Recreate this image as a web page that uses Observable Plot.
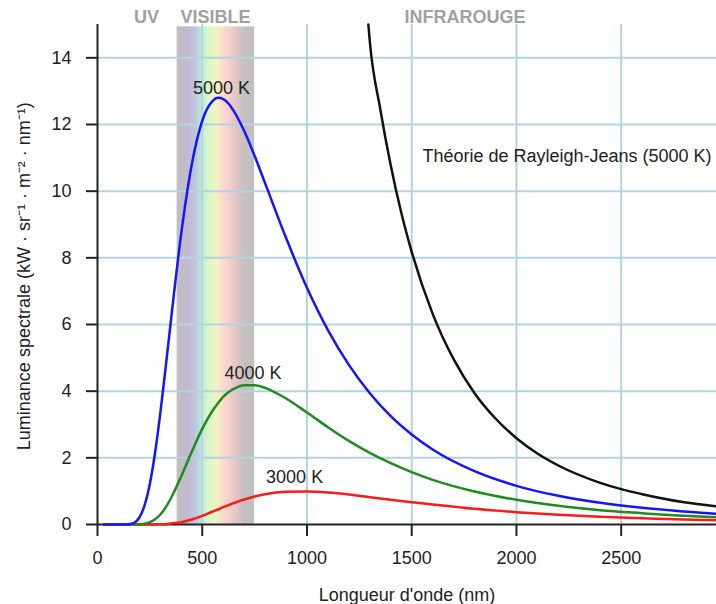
<!DOCTYPE html>
<html>
<head>
<meta charset="utf-8">
<script src="https://cdn.jsdelivr.net/npm/d3@7"></script>
<script src="https://cdn.jsdelivr.net/npm/@observablehq/plot@0.6"></script>
<style>
  html, body { margin: 0; padding: 0; background: #fff; }
</style>
</head>
<body>
<div id="chart"></div>
<script>
// Wavelengths (nm) at which the curves were read
const wavelength = [30,100,150,175,200,225,250,275,300,325,350,400,450,500,550,575,600,625,650,700,750,800,900,1000,1100,1200,1300,1400,1500,1600,1800,2000,2200,2400,2600,2800,2950];
// Spectral radiance (kW·sr⁻¹·m⁻²·nm⁻¹)
const t5000 = [0,0,0.01,0.05,0.21,0.58,1.22,2.16,3.35,4.69,6.09,8.74,10.80,12.11,12.71,12.80,12.76,12.63,12.41,11.81,11.06,10.24,8.60,7.10,5.83,4.79,3.94,3.25,2.70,2.25,1.60,1.16,0.86,0.65,0.50,0.39,0.32];
const t4000 = [0,0,0,0,0.01,0.02,0.07,0.16,0.30,0.51,0.78,1.45,2.18,2.87,3.42,3.64,3.83,3.97,4.07,4.18,4.18,4.10,3.78,3.36,2.92,2.51,2.15,1.84,1.57,1.34,0.99,0.74,0.56,0.43,0.34,0.26,0.22];
const t3000 = [0,0,0,0,0,0,0,0,0.01,0.01,0.03,0.07,0.15,0.26,0.39,0.45,0.52,0.58,0.64,0.75,0.84,0.91,0.98,0.99,0.96,0.90,0.82,0.74,0.67,0.60,0.47,0.37,0.29,0.23,0.19,0.15,0.13];
// Rayleigh-Jeans (5000 K)
const rjWavelength = [1293,1300,1350,1400,1450,1500,1600,1700,1800,1900,2000,2100,2200,2400,2500,2600,2800,2950];
const rjValues = [15,14.49,12.46,10.77,9.36,8.18,6.32,4.96,3.94,3.18,2.59,2.13,1.77,1.25,1.06,0.91,0.67,0.55];

// Visible band (nm)
const visibleBand = [{from: 380, to: 750, bottom: 0, top: 14.93}];

// Axis ticks
const xTicks = [0,500,1000,1500,2000,2500];
const yTicks = [0,2,4,6,8,10,12,14];
const xGrid = [500,1000,1500,2000,2500];
const yGrid = [2,4,6,8,10,12,14];

// Curve labels
const curveLabels = [
  {text: "5000 K", x: 592, y: 13.1},
  {text: "4000 K", x: 742, y: 4.53},
  {text: "3000 K", x: 941, y: 1.41}
];
const rjLabel = [{text: "Théorie de Rayleigh-Jeans (5000 K)", x: 1551, y: 11.04}];
// Region labels
const regionLabels = [
  {text: "UV", x: 234, y: 15.21},
  {text: "VISIBLE", x: 563, y: 15.21},
  {text: "INFRAROUGE", x: 1754, y: 15.21}
];

const xTitle = "Longueur d'onde (nm)";
const yTitle = "Luminance spectrale (kW · sr⁻¹ · m⁻² · nm⁻¹)";

const series = [
  {name: "3000 K", values: t3000, color: "#ff1a1a"},
  {name: "4000 K", values: t4000, color: "#1e8c1e"},
  {name: "5000 K", values: t5000, color: "#1414ff"}
];
const curves = series.flatMap(s => s.values.map((v, i) => ({series: s.name, x: wavelength[i], y: v})));
const rj = rjWavelength.map((w, i) => ({x: w, y: rjValues[i]}));

const gridColor = "#b3d3df";
const axisColor = "#222";

const plot = Plot.plot({
  width: 716,
  height: 604,
  marginLeft: 97,
  marginRight: 0,
  marginTop: 24,
  marginBottom: 80,
  style: {fontFamily: "'Liberation Sans', Arial, sans-serif", fontSize: "18px", color: "#222", background: "#fff"},
  x: {domain: [0, 2955]},
  y: {domain: [0, 15]},
  marks: [
    Plot.rect(visibleBand, {x1: "from", x2: "to", y1: "bottom", y2: "top", fill: "url(#visgrad)"}),
    Plot.gridX(xGrid, {stroke: gridColor, strokeOpacity: 1, strokeWidth: 2}),
    Plot.gridY(yGrid, {stroke: gridColor, strokeOpacity: 1, strokeWidth: 2}),
    Plot.axisX(xTicks, {tickSize: 12, tickPadding: 15, tickFormat: d => String(d), stroke: axisColor, strokeWidth: 2, fill: "#222", label: null}),
    Plot.axisY(yTicks, {tickSize: 11, tickPadding: 15, tickFormat: d => String(d), stroke: axisColor, strokeWidth: 2, fill: "#222", label: null}),
    Plot.ruleX([0], {stroke: axisColor, strokeWidth: 2}),
    Plot.ruleY([0], {stroke: axisColor, strokeWidth: 2}),
    Plot.line(rj, {x: "x", y: "y", stroke: "#111", strokeWidth: 2.5, curve: "monotone-x"}),
    Plot.line(curves, {x: "x", y: "y", z: "series", stroke: d => series.find(s => s.name === d.series).color, strokeWidth: 2.5, curve: "monotone-x"}),
    Plot.text(curveLabels, {x: "x", y: "y", text: "text", textAnchor: "middle", fill: "#222", fontSize: 18}),
    Plot.text(rjLabel, {x: "x", y: "y", text: "text", textAnchor: "start", fill: "#222", fontSize: 18}),
    Plot.text(regionLabels, {x: "x", y: "y", text: "text", fill: "#a0a0a0", fontSize: 18, fontWeight: "bold"}),
    Plot.text([xTitle], {frameAnchor: "bottom", dy: 76, lineAnchor: "bottom", fill: "#222", fontSize: 18}),
    Plot.text([yTitle], {frameAnchor: "left", y: () => 7.45, rotate: -90, dx: -73, textAnchor: "middle", lineAnchor: "middle", fill: "#222", fontSize: 18})
  ]
});

// gradient for the visible band
const defs = d3.select(plot).insert("defs", ":first-child");
const grad = defs.append("linearGradient").attr("id", "visgrad").attr("x1", 0).attr("x2", 1).attr("y1", 0).attr("y2", 0);
const stops = [
  [0, "#c0c0c0"], [0.08, "#c0bcc4"], [0.16, "#c6b8d4"], [0.25, "#b8cadc"],
  [0.33, "#c2ecd8"], [0.42, "#d8f8c8"], [0.50, "#f0f4c0"], [0.58, "#f8e0c8"],
  [0.66, "#f8d0d0"], [0.78, "#e0c4c4"], [0.88, "#c4c0c0"], [1, "#c0c0c0"]
];
stops.forEach(([o, c]) => grad.append("stop").attr("offset", o).attr("stop-color", c));

document.getElementById("chart").appendChild(plot);
</script>
</body>
</html>
